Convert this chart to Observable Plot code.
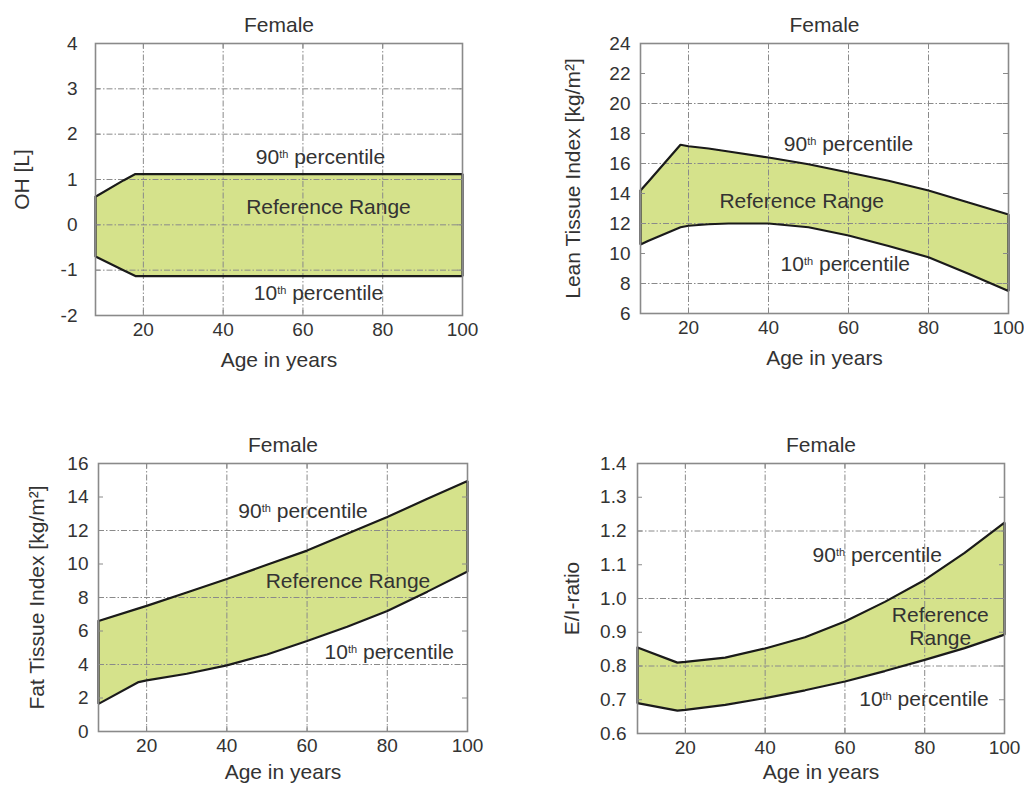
<!DOCTYPE html>
<html><head><meta charset="utf-8">
<script src="https://cdn.jsdelivr.net/npm/d3@7"></script>
<script src="https://cdn.jsdelivr.net/npm/@observablehq/plot@0.6"></script>
<style>
body{margin:0;background:#fff;}
#wrap{position:relative;width:1024px;height:787px;overflow:hidden;background:#fff;}
.panel{position:absolute;}
</style></head><body><div id="wrap"></div>
<script>
// ---- shared ----
const titleText = "Female";
const xLabelText = "Age in years";
const ageTicks = [20, 40, 60, 80, 100];
const ageGrid = [20, 40, 60, 80];

// ---- OH [L] ----
const ohAge = [8, 15, 18, 100];
const ohP90 = [0.62, 0.98, 1.12, 1.12];
const ohP10 = [-0.70, -1.00, -1.13, -1.13];
const ohTicks = [-2, -1, 0, 1, 2, 3, 4];
const ohGrid = [-1, 0, 1, 2, 3];

// ---- Lean Tissue Index ----
const ltiAge = [8, 10, 18, 20, 25, 30, 40, 50, 60, 70, 80, 90, 100];
const ltiP90 = [14.2, 14.8, 17.25, 17.15, 17.0, 16.8, 16.4, 15.95, 15.4, 14.85, 14.2, 13.4, 12.6];
const ltiP10 = [10.6, 10.85, 11.75, 11.85, 11.95, 12.0, 12.0, 11.75, 11.2, 10.5, 9.75, 8.65, 7.5];
const ltiTicks = [6, 8, 10, 12, 14, 16, 18, 20, 22, 24];
const ltiGrid = [8, 12, 16, 20];

// ---- Fat Tissue Index ----
const ftiAge = [8, 18, 20, 30, 40, 50, 60, 70, 80, 90, 100];
const ftiP90 = [6.6, 7.35, 7.5, 8.3, 9.1, 9.95, 10.8, 11.8, 12.8, 13.9, 14.95];
const ftiP10 = [1.65, 2.95, 3.05, 3.45, 3.95, 4.6, 5.4, 6.25, 7.2, 8.35, 9.55];
const ftiTicks = [0, 2, 4, 6, 8, 10, 12, 14, 16];
const ftiGrid = [4, 8, 12];

// ---- E/I ratio ----
const eiAge = [8, 18, 20, 30, 40, 50, 60, 70, 80, 90, 100];
const eiP90 = [0.855, 0.81, 0.812, 0.825, 0.852, 0.885, 0.932, 0.99, 1.055, 1.135, 1.225];
const eiP10 = [0.69, 0.668, 0.67, 0.685, 0.705, 0.728, 0.754, 0.785, 0.818, 0.853, 0.893];
const eiTicks = [0.6, 0.7, 0.8, 0.9, 1.0, 1.1, 1.2, 1.3, 1.4];
const eiGrid = [0.8, 1.0, 1.2];

const panels = [
  {age: ohAge, hi: ohP90, lo: ohP10, ticks: ohTicks, grid: ohGrid, domain: [-2, 4], yLabel: "OH [L]",
   fmt: d => String(d),
   labels: [{age: 64.4, v: 1.5, t: "90th percentile"}, {age: 66.4, v: 0.4, t: "Reference Range"}, {age: 63.9, v: -1.5, t: "10th percentile"}],
   box: {left: 0, top: 0, width: 510, height: 380, mL: 95, mR: 48, mT: 43, mB: 65, yOff: 73, pad: 18, xlab: 45}},
  {age: ltiAge, hi: ltiP90, lo: ltiP10, ticks: ltiTicks, grid: ltiGrid, domain: [6, 24], yLabel: "Lean Tissue Index [kg/m²]",
   fmt: d => String(d),
   labels: [{age: 60, v: 17.3, t: "90th percentile"}, {age: 48.3, v: 13.5, t: "Reference Range"}, {age: 59.2, v: 9.3, t: "10th percentile"}],
   box: {left: 512, top: 0, width: 512, height: 380, mL: 128, mR: 16, mT: 43, mB: 67, yOff: 67, pad: 10, xlab: 45}},
  {age: ftiAge, hi: ftiP90, lo: ftiP10, ticks: ftiTicks, grid: ftiGrid, domain: [0, 16], yLabel: "Fat Tissue Index [kg/m²]",
   fmt: d => String(d),
   labels: [{age: 59, v: 13.17, t: "90th percentile"}, {age: 70.2, v: 9.0, t: "Reference Range"}, {age: 80.5, v: 4.8, t: "10th percentile"}],
   box: {left: 0, top: 420, width: 510, height: 367, mL: 98, mR: 43, mT: 43, mB: 56, yOff: 61, pad: 10, xlab: 41}},
  {age: eiAge, hi: eiP90, lo: eiP10, ticks: eiTicks, grid: eiGrid, domain: [0.6, 1.4], yLabel: "E/I-ratio",
   fmt: d => d.toFixed(1),
   labels: [{age: 68.1, v: 1.13, t: "90th percentile"}, {age: 83.9, v: 0.917, t: "Reference\nRange"}, {age: 79.8, v: 0.704, t: "10th percentile"}],
   box: {left: 512, top: 420, width: 512, height: 367, mL: 125, mR: 20, mT: 43, mB: 54, yOff: 65, pad: 11, xlab: 39}}
];

const FILL = "#d5e28b";
const GRID = "#8a8a8a";
const TXT = "#333";
const FS = 21;

function superscript(svg) {
  svg.querySelectorAll("text").forEach(t => {
    const s = t.textContent;
    const m = s.match(/^(\d+)th (.*)$/);
    if (!m) return;
    while (t.firstChild) t.removeChild(t.firstChild);
    const ns = "http://www.w3.org/2000/svg";
    const a = document.createElementNS(ns, "tspan"); a.textContent = m[1];
    const b = document.createElementNS(ns, "tspan"); b.textContent = "th";
    b.setAttribute("baseline-shift", "super"); b.setAttribute("font-size", "11");
    const c = document.createElementNS(ns, "tspan"); c.textContent = " " + m[2];
    t.append(a, b, c);
  });
}

const wrap = document.getElementById("wrap");
for (const p of panels) {
  const b = p.box;
  const fw = b.width - b.mL - b.mR;
  const fh = b.height - b.mT - b.mB;
  const rows = p.age.map((a, i) => ({age: a, hi: p.hi[i], lo: p.lo[i]}));
  const poly = [
    ...rows.map(r => ({age: r.age, v: r.hi})),
    ...rows.slice().reverse().map(r => ({age: r.age, v: r.lo}))
  ];
  poly.push(poly[0]);
  const svg = Plot.plot({
    width: b.width, height: b.height,
    marginLeft: b.mL, marginRight: b.mR, marginTop: b.mT, marginBottom: b.mB,
    style: {fontFamily: "'Liberation Sans', Arial, sans-serif", fontSize: "19px", color: TXT, background: "transparent", overflow: "visible"},
    x: {domain: [8, 100], axis: null},
    y: {domain: p.domain, axis: null},
    marks: [
      Plot.areaY(rows, {x: "age", y1: "lo", y2: "hi", fill: FILL}),
      Plot.gridX(ageGrid, {stroke: GRID, strokeOpacity: 1, strokeWidth: 1, strokeDasharray: "6,2,1.5,2"}),
      Plot.gridY(p.grid, {stroke: GRID, strokeOpacity: 1, strokeWidth: 1, strokeDasharray: "6,2,1.5,2"}),
      Plot.line(poly, {x: "age", y: "v", stroke: "#1a1a1a", strokeWidth: 2.2, strokeLinejoin: "miter"}),
      Plot.frame({stroke: "#8a8a8a", strokeWidth: 1.6}),
      Plot.tickY(p.ticks, {y: d => d, stroke: "#8a8a8a", insetRight: fw - 5}),
      Plot.tickY(p.ticks, {y: d => d, stroke: "#8a8a8a", insetLeft: fw - 5}),
      Plot.tickX(ageTicks, {x: d => d, stroke: "#8a8a8a", insetTop: fh - 5}),
      Plot.tickX(ageTicks, {x: d => d, stroke: "#8a8a8a", insetBottom: fh - 5}),
      Plot.axisY(p.ticks, {anchor: "left", tickSize: 0, tickPadding: b.pad, tickFormat: p.fmt, label: null, fill: TXT}),
      Plot.axisX(ageTicks, {anchor: "bottom", tickSize: 0, tickPadding: 7, tickFormat: d => String(d), label: null, fill: TXT}),
      Plot.text([titleText], {frameAnchor: "top", dy: -18, lineAnchor: "middle", fontSize: FS, fill: TXT}),
      Plot.text([xLabelText], {frameAnchor: "bottom", dy: b.xlab, lineAnchor: "middle", fontSize: FS, fill: TXT}),
      Plot.text([p.yLabel], {frameAnchor: "left", dx: -b.yOff, rotate: -90, textAnchor: "middle", lineAnchor: "middle", fontSize: FS, fill: TXT}),
      Plot.text(p.labels, {x: "age", y: "v", text: "t", fontSize: FS, fill: TXT, lineHeight: 1.1})
    ]
  });
  superscript(svg);
  const div = document.createElement("div");
  div.className = "panel";
  div.style.left = b.left + "px";
  div.style.top = b.top + "px";
  div.appendChild(svg);
  wrap.appendChild(div);
}
</script></body></html>
